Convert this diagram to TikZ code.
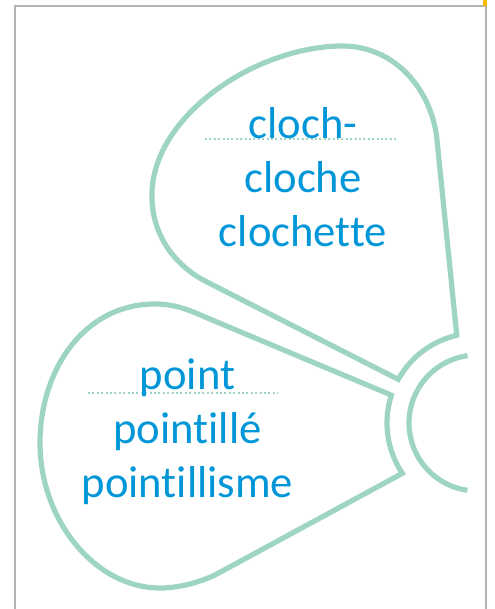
\documentclass[tikz,border=0pt]{standalone}
\usepackage{fontspec}
\setmainfont{Carlito}[Ligatures={NoCommon,NoRare}]
\usepackage{xcolor}
\usetikzlibrary{calc}
\definecolor{mint}{HTML}{9DD4C4}
\definecolor{wordblue}{HTML}{0096D8}
\definecolor{framegray}{HTML}{B3B3B3}
\definecolor{tabyellow}{HTML}{F6B900}
\tikzset{
  petal/.style={draw=mint, line width=3.9pt, miter limit=4},
  guide/.style={draw=mint, line width=1.5pt, dash pattern=on 1.5pt off 1.8pt},
  word/.style={text=wordblue, anchor=base, inner sep=0pt,
    font=\fontsize{33.5pt}{40pt}\selectfont}
}
\begin{document}
\begin{tikzpicture}[x=0.75pt, y=-0.75pt]
	 	\useasboundingbox (0,0) rectangle (495,609);
	 	%% frame
	 	\draw[framegray, line width=1.5pt] (15,615) -- (15,6) -- (486,6) -- (486,615);
	 	\fill[tabyellow] (483,0) rectangle (487,6);
	 	%% hub
	 	\coordinate (hub) at (477,423);
	 	\draw[petal] ($(hub)+(262:68)$) arc[start angle=262, end angle=98, radius=68];
	 	%% upper petal
	 	\draw[petal] ($(hub)+(209:90)$) -- (207,282)
	 	  .. controls (175,266) and (152,235) .. (152,197)
	 	  .. controls (150,120) and (250,48) .. (340,46)
	 	  .. controls (395,45) and (432,90) .. (437,140)
	 	  -- ($(hub)+(257:90)$) arc[start angle=257, end angle=209, radius=90] -- cycle;
	 	%% left petal
	 	\draw[petal] ($(hub)+(198:90)$) -- (205,317)
	 	  .. controls (185,308) and (172,304) .. (155,304)
	 	  .. controls (84,304) and (40,370) .. (40,443)
	 	  .. controls (40,520) and (95,588) .. (160,588)
	 	  .. controls (180,588) and (200,582) .. (215,575)
	 	  -- ($(hub)+(146:90)$) arc[start angle=146, end angle=198, radius=90] -- cycle;
	 	%% guide lines
	 	\draw[guide] (205,139) -- (397,139);
	 	\draw[guide] (88,393) -- (278,393);
	 	%% words
	 	\node[word] (cloch) at (303,139) {cloch-};
	 	\node[word] (cloche) at (303,193) {cloche};
	 	\node[word] (clochette) at (303,247) {clochette};
	 	\node[word] (point) at (187.5,389) {point};
	 	\node[word] (pointille) at (187.5,443) {pointillé};
	 	\node[word] (pointillisme) at (187.5,497) {pointillisme};
\end{tikzpicture}
\end{document}
